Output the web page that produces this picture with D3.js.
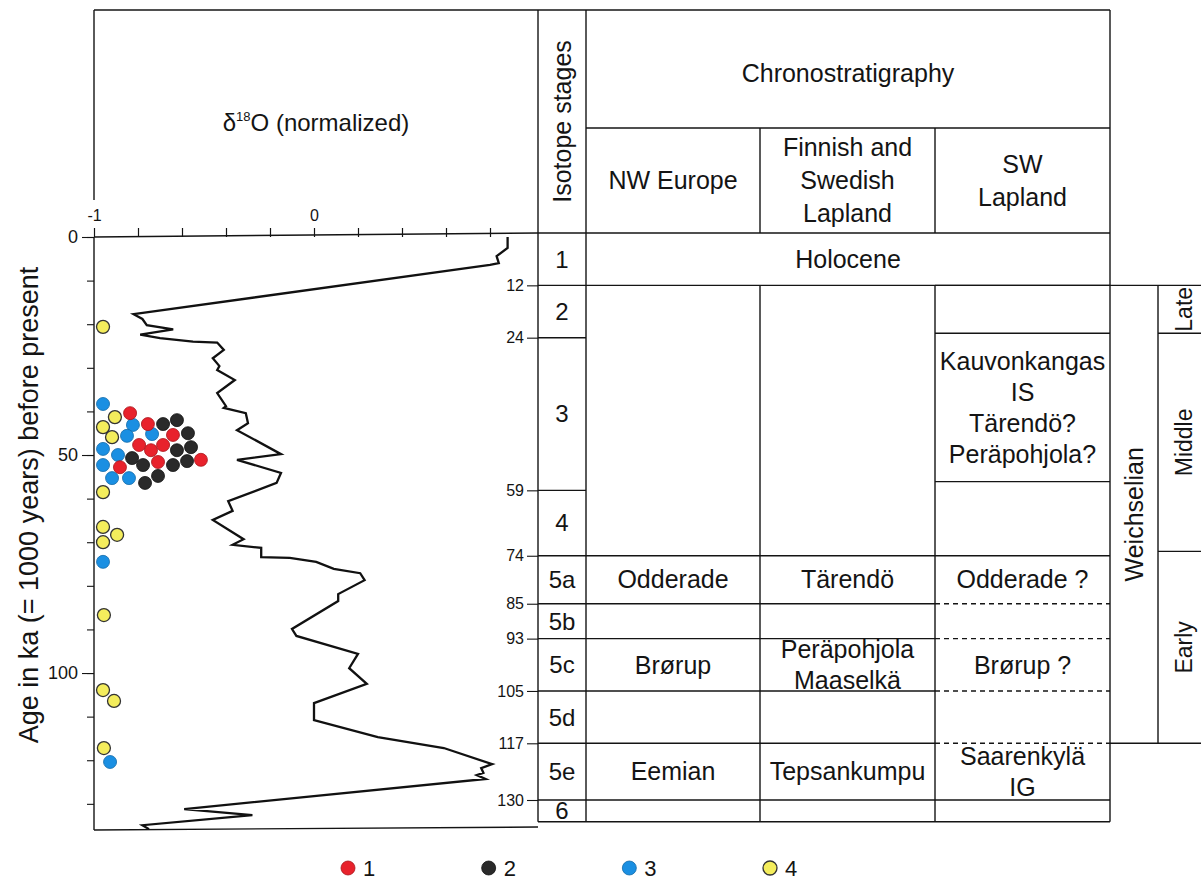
<!DOCTYPE html>
<html>
<head>
<meta charset="utf-8">
<script src="https://cdn.jsdelivr.net/npm/d3@7"></script>
<style>
  html, body { margin: 0; padding: 0; background: #fff; }
  svg { display: block; font-family: "Liberation Sans", Arial, sans-serif; }
</style>
</head>
<body>
<svg id="chart" width="1201" height="888"></svg>
<script>
// ---- δ18O record: age (ka) and normalized value ----
const isoAge = [0, 2.5, 4.4, 6.0, 6.4, 17.7, 18.8, 20.2, 21.2, 22.4, 23.2, 24.0, 24.2, 25.9, 27.8, 29.6, 30.5,
  32.8, 35.8, 38.8, 39.2, 40.4, 42.7, 44.3, 49.8, 51.1, 54.1, 56.4, 60.6, 62.8, 64.9, 69.3, 70.6, 71.3,
  73.4, 73.6, 74.5, 76.1, 77.1, 78.7, 81.9, 83.5, 89.9, 91.5, 95.6, 98.9, 102.5, 106.9, 110.8, 114.7,
  117.2, 120.9, 121.8, 122.9, 123.4, 124.3, 131.2, 132.6, 134.9, 135.8];
const isoValue = [0.88, 0.88, 0.83, 0.84, 0.80, -0.82, -0.78, -0.76, -0.64, -0.79, -0.70, -0.55, -0.44, -0.41,
  -0.46, -0.43, -0.44, -0.36, -0.44, -0.40, -0.41, -0.31, -0.30, -0.35, -0.15, -0.35, -0.15, -0.17, -0.39,
  -0.37, -0.46, -0.32, -0.37, -0.24, -0.24, -0.11, 0.01, 0.09, 0.21, 0.23, 0.11, 0.11, -0.10, -0.08, 0.20,
  0.16, 0.24, 0.00, 0.00, 0.29, 0.59, 0.81, 0.76, 0.77, 0.74, 0.78, -0.59, -0.28, -0.78, -0.75];

// ---- dated samples, groups 1–4 (age in ka, position on the δ18O axis) ----
const group1Age = [40.4, 42.9, 45.4, 47.7, 48.9, 47.7, 52.8, 51.6, 51.1];
const group1Pos = [-0.836, -0.755, -0.641, -0.795, -0.741, -0.686, -0.882, -0.709, -0.514];
const group2Age = [42.9, 42.0, 45.0, 50.7, 52.3, 48.9, 48.2, 52.3, 51.4, 54.8, 56.4];
const group2Pos = [-0.686, -0.623, -0.573, -0.827, -0.777, -0.623, -0.559, -0.641, -0.577, -0.709, -0.768];
const group3Age = [38.3, 43.1, 45.6, 45.2, 48.6, 50.0, 52.3, 55.3, 55.3, 74.5, 120.4];
const group3Pos = [-0.959, -0.823, -0.850, -0.736, -0.959, -0.891, -0.959, -0.918, -0.841, -0.959, -0.927];
const group4Age = [20.6, 41.3, 43.6, 45.9, 58.5, 66.5, 68.3, 70.0, 86.7, 103.9, 106.4, 117.2];
const group4Pos = [-0.959, -0.905, -0.959, -0.918, -0.959, -0.959, -0.895, -0.959, -0.955, -0.959, -0.909, -0.955];

const groupNames = ["1", "2", "3", "4"];
const groupFill = ["#e8222c", "#2a2a2a", "#1a8fe2", "#f4ed5c"];
const groupStroke = ["#a8141b", "#111111", "#1269a8", "#333333"];

// ---- axis ticks ----
const ageTicks = [0, 10, 20, 30, 40, 50, 60, 70, 80, 90, 100, 110, 120, 130];
const ageLabels = [0, 50, 100];
const deltaTicks = [-1, -0.8, -0.6, -0.4, -0.2, 0, 0.2, 0.4, 0.6, 0.8];
const deltaLabels = [-1, 0];

// ---- marine isotope stages ----
const stageNames = ["1", "2", "3", "4", "5a", "5b", "5c", "5d", "5e", "6"];
const stageBounds = [0, 12, 24, 59, 74, 85, 93, 105, 117, 130, 135];
const boundaryTicks = [12, 24, 59, 74, 85, 93, 105, 117, 130];

// ---- chronostratigraphy columns and units ----
const regionNames = [["NW Europe"], ["Finnish and", "Swedish", "Lapland"], ["SW", "Lapland"]];
const nwEuropeUnits = [
  { from: 74, to: 85, text: ["Odderade"] },
  { from: 93, to: 105, text: ["Brørup"] },
  { from: 117, to: 130, text: ["Eemian"] }
];
const lappishUnits = [
  { from: 74, to: 85, text: ["Tärendö"] },
  { from: 93, to: 105, text: ["Peräpohjola", "Maaselkä"] },
  { from: 117, to: 130, text: ["Tepsankumpu"] }
];
const swLaplandUnits = [
  { from: 23, to: 57, text: ["Kauvonkangas", "IS", "Tärendö?", "Peräpohjola?"] },
  { from: 74, to: 85, text: ["Odderade ?"] },
  { from: 93, to: 105, text: ["Brørup ?"] },
  { from: 117, to: 130, text: ["Saarenkylä", "IG"] }
];
const swSolidBounds = [12, 23, 57, 74, 130];
const swDashedBounds = [85, 93, 105, 117];
const substageNames = ["Late", "Middle", "Early"];
const substageBounds = [12, 23, 73, 117];

// ---- layout ----
const L = {
  top: 10, plotLeft: 94, isoL: 538, isoR: 586,
  cols: [586, 760, 935, 1110], headSplit: 128,
  weichR: 1158, right: 1201, plotBottomAge: 136
};
const INK = "#141414";
const FONT = "Liberation Sans, Arial, sans-serif";

const svg = d3.select("#chart");
// age scale of the δ18O panel and of the stratigraphic table
const y = d3.scaleLinear().domain([0, L.plotBottomAge]).range([237, 830]);
const yT = d3.scaleLinear().domain([0, 130]).range([233, 800]);
const x = d3.scaleLinear().domain([-1, 0]).range([L.plotLeft, 314]);

const g = svg.append("g");

function line(x1, y1, x2, y2, dashed) {
  g.append("line").attr("x1", x1).attr("y1", y1).attr("x2", x2).attr("y2", y2)
    .attr("stroke", INK).attr("stroke-width", 1.4)
    .attr("stroke-dasharray", dashed ? "5,4" : null);
}
function label(lines, cx, cy, size, lh, rotate) {
  const t = g.append("text")
    .attr("text-anchor", "middle").attr("font-size", size).attr("fill", INK)
    .attr("transform", `translate(${cx},${cy})` + (rotate ? " rotate(-90)" : ""));
  const n = lines.length;
  lines.forEach((s, i) => {
    t.append("tspan").attr("x", 0)
      .attr("y", (i - (n - 1) / 2) * lh)
      .attr("dy", "0.35em").text(s);
  });
  return t;
}

// ---- frame of the δ18O panel ----
const tableBottom = yT(stageBounds[stageBounds.length - 1]);
line(L.plotLeft, L.top, L.cols[3], L.top);
line(L.plotLeft, L.top, L.plotLeft, 200);
line(L.plotLeft, y(0), L.plotLeft, y(L.plotBottomAge));
line(L.plotLeft, y(0), L.isoL, yT(0));
line(L.isoL, yT(0), L.cols[3], yT(0));
line(L.plotLeft, y(L.plotBottomAge), L.isoL, y(L.plotBottomAge) - 3);

const title = g.append("text").attr("x", (L.plotLeft + L.isoL) / 2).attr("y", 131)
  .attr("text-anchor", "middle").attr("font-size", 24).attr("fill", INK);
title.append("tspan").text("δ");
title.append("tspan").attr("font-size", 13).attr("dy", -10).text("18");
title.append("tspan").attr("dy", 10).text("O (normalized)");

// top δ18O axis
const xAxis = svg.append("g").attr("transform", `translate(0,${y(0)})`)
  .call(d3.axisTop(x).tickValues(deltaTicks).tickSize(9).tickPadding(7)
    .tickFormat(d => deltaLabels.some(v => Math.abs(v - d) < 1e-9) ? (d < 0 ? "-" + Math.abs(d) : String(d)) : ""));
xAxis.select(".domain").remove();
xAxis.selectAll("line").attr("stroke", INK).attr("stroke-width", 1.2);
xAxis.selectAll("text").attr("font-size", 16).attr("fill", INK).attr("font-family", FONT);

// left age axis (minor ticks, then labelled ones)
const yMinor = svg.append("g").attr("transform", `translate(${L.plotLeft},0)`)
  .call(d3.axisLeft(y).tickValues(ageTicks).tickSize(7).tickFormat(""));
yMinor.select(".domain").remove();
yMinor.selectAll("line").attr("stroke", INK).attr("stroke-width", 1.1);
const yMajor = svg.append("g").attr("transform", `translate(${L.plotLeft},0)`)
  .call(d3.axisLeft(y).tickValues(ageLabels).tickSize(12).tickPadding(4));
yMajor.select(".domain").remove();
yMajor.selectAll("line").attr("stroke", INK).attr("stroke-width", 1.1);
yMajor.selectAll("text").attr("font-size", 18).attr("fill", INK).attr("font-family", FONT);

g.append("text").attr("transform", `translate(38,505) rotate(-90)`)
  .attr("text-anchor", "middle").attr("font-size", 27).attr("fill", INK)
  .text("Age in ka (= 1000 years) before present");

// ---- δ18O curve ----
const isoData = isoAge.map((a, i) => ({ a, v: isoValue[i] }));
svg.append("path").datum(isoData)
  .attr("fill", "none").attr("stroke", "#111").attr("stroke-width", 2.3)
  .attr("stroke-linejoin", "miter")
  .attr("d", d3.line().x(d => x(d.v)).y(d => y(d.a)));

// ---- dated samples ----
const groups = [
  { ages: group4Age, pos: group4Pos, k: 3 },
  { ages: group3Age, pos: group3Pos, k: 2 },
  { ages: group2Age, pos: group2Pos, k: 1 },
  { ages: group1Age, pos: group1Pos, k: 0 }
];
groups.forEach(gr => {
  svg.append("g").selectAll("circle")
    .data(gr.ages.map((a, i) => ({ a, p: gr.pos[i] })))
    .join("circle")
    .attr("cx", d => x(d.p)).attr("cy", d => y(d.a)).attr("r", 6.5)
    .attr("fill", groupFill[gr.k]).attr("stroke", groupStroke[gr.k])
    .attr("stroke-width", gr.k === 3 ? 1.3 : 0.8);
});

// ---- isotope stage column ----
line(L.isoL, L.top, L.isoL, tableBottom);
line(L.isoR, L.top, L.isoR, tableBottom);
label(["Isotope stages"], (L.isoL + L.isoR) / 2, (L.top + yT(0)) / 2, 25, 0, true);
stageNames.forEach((s, i) => {
  label([s], (L.isoL + L.isoR) / 2, (yT(stageBounds[i]) + yT(stageBounds[i + 1])) / 2, 24, 0);
});
stageBounds.slice(1).forEach(b => line(L.isoL, yT(b), L.isoR, yT(b)));

// boundary ages beside the stage column
const bAxis = svg.append("g").attr("transform", `translate(${L.isoL},0)`)
  .call(d3.axisLeft(yT).tickValues(boundaryTicks).tickSize(11).tickPadding(3));
bAxis.select(".domain").remove();
bAxis.selectAll("line").attr("stroke", INK).attr("stroke-width", 1.1);
bAxis.selectAll("text").attr("font-size", 16).attr("fill", INK).attr("font-family", FONT);

// ---- chronostratigraphy ----
const C = L.cols;
line(C[3], L.top, C[3], tableBottom);
line(C[0], L.headSplit, C[3], L.headSplit);
label(["Chronostratigraphy"], (C[0] + C[3]) / 2, (L.top + L.headSplit) / 2 + 4, 25, 0);
regionNames.forEach((r, i) => {
  label(r, (C[i] + C[i + 1]) / 2, (L.headSplit + yT(0)) / 2, 25, 33);
  if (i > 0) {
    line(C[i], L.headSplit, C[i], yT(0));
    line(C[i], yT(12), C[i], tableBottom);
  }
});
label(["Holocene"], (C[0] + C[3]) / 2, (yT(0) + yT(12)) / 2, 25, 0);
line(C[0], yT(12), C[3], yT(12));
[74, 85, 93, 105, 117, 130].forEach(b => line(C[0], yT(b), C[2], yT(b)));
swSolidBounds.forEach(b => line(C[2], yT(b), C[3], yT(b)));
swDashedBounds.forEach(b => line(C[2], yT(b), C[3], yT(b), true));
line(C[0], tableBottom, C[3], tableBottom);

function units(list, ci) {
  list.forEach(u => {
    label(u.text, (C[ci] + C[ci + 1]) / 2, (yT(u.from) + yT(u.to)) / 2, 25, 31);
  });
}
units(nwEuropeUnits, 0);
units(lappishUnits, 1);
units(swLaplandUnits, 2);

// ---- Weichselian and its substages ----
line(C[3], yT(12), L.right, yT(12));
line(C[3], yT(117), L.right, yT(117));
line(L.weichR, yT(12), L.weichR, yT(117));
label(["Weichselian"], (C[3] + L.weichR) / 2, (yT(12) + yT(117)) / 2, 25, 0, true);
substageBounds.slice(1, 3).forEach(b => line(L.weichR, yT(b), L.right, yT(b)));
substageNames.forEach((s, i) => {
  label([s], (L.weichR + L.right) / 2 + 4, (yT(substageBounds[i]) + yT(substageBounds[i + 1])) / 2, 23, 0, true);
});

// ---- legend ----
const lx = d3.scalePoint().domain(groupNames).range([348, 770]);
const leg = svg.append("g").attr("transform", "translate(0,868)");
groupNames.forEach((n, i) => {
  leg.append("circle").attr("cx", lx(n)).attr("cy", 0).attr("r", 7)
    .attr("fill", groupFill[i]).attr("stroke", groupStroke[i]).attr("stroke-width", i === 3 ? 1.3 : 0.8);
  leg.append("text").attr("x", lx(n) + 15).attr("y", 8).attr("font-size", 22).attr("fill", INK).text(n);
});
</script>
</body>
</html>
